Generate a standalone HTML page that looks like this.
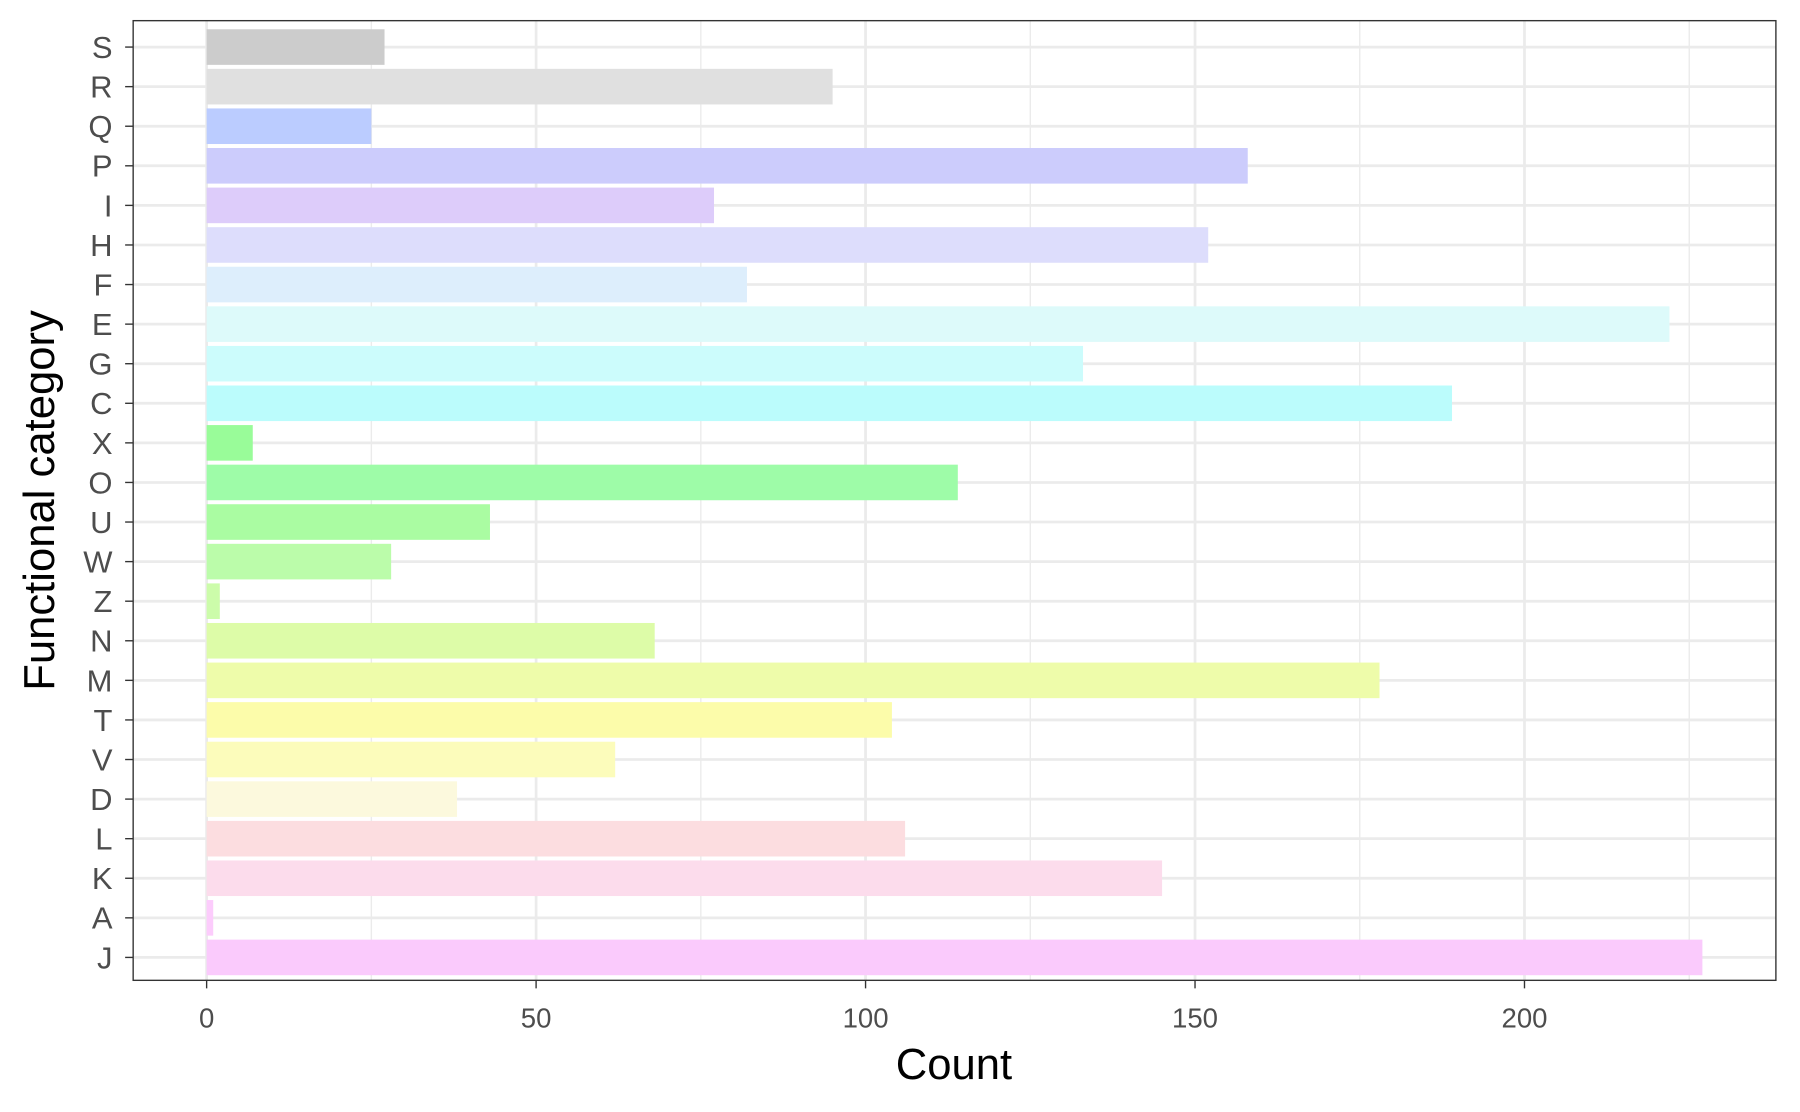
<!DOCTYPE html>
<html><head><meta charset="utf-8"><style>html,body{margin:0;padding:0;background:#fff}svg{display:block}</style></head>
<body>
<svg width="1800" height="1112" viewBox="0 0 1568 968.7" preserveAspectRatio="none" xmlns="http://www.w3.org/2000/svg" font-family="Liberation Sans, Arial, sans-serif">
<rect x="0" y="0" width="1568" height="969" fill="#fff"/>
<g stroke="#ebebeb" stroke-width="1.2">
<line x1="323.5" y1="18" x2="323.5" y2="854"/><line x1="610.5" y1="18" x2="610.5" y2="854"/><line x1="897.5" y1="18" x2="897.5" y2="854"/><line x1="1184.5" y1="18" x2="1184.5" y2="854"/><line x1="1471.5" y1="18" x2="1471.5" y2="854"/>
</g>
<g stroke="#ebebeb" stroke-width="2.4">
<line x1="180" y1="18" x2="180" y2="854"/><line x1="467" y1="18" x2="467" y2="854"/><line x1="754" y1="18" x2="754" y2="854"/><line x1="1041" y1="18" x2="1041" y2="854"/><line x1="1328" y1="18" x2="1328" y2="854"/>
</g>
<g stroke="#ebebeb" stroke-width="2.4">
<line x1="116" x2="1547" y1="41" y2="41"/><line x1="116" x2="1547" y1="75.48" y2="75.48"/><line x1="116" x2="1547" y1="109.96" y2="109.96"/><line x1="116" x2="1547" y1="144.44" y2="144.44"/><line x1="116" x2="1547" y1="178.92" y2="178.92"/><line x1="116" x2="1547" y1="213.4" y2="213.4"/><line x1="116" x2="1547" y1="247.88" y2="247.88"/><line x1="116" x2="1547" y1="282.36" y2="282.36"/><line x1="116" x2="1547" y1="316.84" y2="316.84"/><line x1="116" x2="1547" y1="351.32" y2="351.32"/><line x1="116" x2="1547" y1="385.8" y2="385.8"/><line x1="116" x2="1547" y1="420.28" y2="420.28"/><line x1="116" x2="1547" y1="454.76" y2="454.76"/><line x1="116" x2="1547" y1="489.24" y2="489.24"/><line x1="116" x2="1547" y1="523.72" y2="523.72"/><line x1="116" x2="1547" y1="558.2" y2="558.2"/><line x1="116" x2="1547" y1="592.68" y2="592.68"/><line x1="116" x2="1547" y1="627.16" y2="627.16"/><line x1="116" x2="1547" y1="661.64" y2="661.64"/><line x1="116" x2="1547" y1="696.12" y2="696.12"/><line x1="116" x2="1547" y1="730.6" y2="730.6"/><line x1="116" x2="1547" y1="765.08" y2="765.08"/><line x1="116" x2="1547" y1="799.56" y2="799.56"/><line x1="116" x2="1547" y1="834.04" y2="834.04"/>
</g>
<g>
<rect x="180" y="25.5" width="154.98" height="31" fill="#cccccc"/>
<rect x="180" y="59.98" width="545.3" height="31" fill="#e0e0e0"/>
<rect x="180" y="94.46" width="143.5" height="31" fill="#bbccff"/>
<rect x="180" y="128.94" width="906.92" height="31" fill="#ccccfc"/>
<rect x="180" y="163.42" width="441.98" height="31" fill="#ddccfa"/>
<rect x="180" y="197.9" width="872.48" height="31" fill="#ddddfc"/>
<rect x="180" y="232.38" width="470.68" height="31" fill="#ddeefc"/>
<rect x="180" y="266.86" width="1274.28" height="31" fill="#ddfafa"/>
<rect x="180" y="301.34" width="763.42" height="31" fill="#ccfcfc"/>
<rect x="180" y="335.82" width="1084.86" height="31" fill="#bbfcfc"/>
<rect x="180" y="370.3" width="40.18" height="31" fill="#99fc99"/>
<rect x="180" y="404.78" width="654.36" height="31" fill="#9efca8"/>
<rect x="180" y="439.26" width="246.82" height="31" fill="#aafca2"/>
<rect x="180" y="473.74" width="160.72" height="31" fill="#bbfcaa"/>
<rect x="180" y="508.22" width="11.48" height="31" fill="#ccfcaa"/>
<rect x="180" y="542.7" width="390.32" height="31" fill="#ddfca8"/>
<rect x="180" y="577.18" width="1021.72" height="31" fill="#eefcaa"/>
<rect x="180" y="611.66" width="596.96" height="31" fill="#fcfcaa"/>
<rect x="180" y="646.14" width="355.88" height="31" fill="#fcfcbb"/>
<rect x="180" y="680.62" width="218.12" height="31" fill="#fcf9dd"/>
<rect x="180" y="715.1" width="608.44" height="31" fill="#fcdde0"/>
<rect x="180" y="749.58" width="832.3" height="31" fill="#fcdcec"/>
<rect x="180" y="784.06" width="5.74" height="31" fill="#fcccfc"/>
<rect x="180" y="818.54" width="1302.98" height="31" fill="#facafc"/>
</g>
<g stroke="#333" stroke-width="1.2">
<line x1="109" x2="116" y1="41" y2="41"/><line x1="109" x2="116" y1="75.48" y2="75.48"/><line x1="109" x2="116" y1="109.96" y2="109.96"/><line x1="109" x2="116" y1="144.44" y2="144.44"/><line x1="109" x2="116" y1="178.92" y2="178.92"/><line x1="109" x2="116" y1="213.4" y2="213.4"/><line x1="109" x2="116" y1="247.88" y2="247.88"/><line x1="109" x2="116" y1="282.36" y2="282.36"/><line x1="109" x2="116" y1="316.84" y2="316.84"/><line x1="109" x2="116" y1="351.32" y2="351.32"/><line x1="109" x2="116" y1="385.8" y2="385.8"/><line x1="109" x2="116" y1="420.28" y2="420.28"/><line x1="109" x2="116" y1="454.76" y2="454.76"/><line x1="109" x2="116" y1="489.24" y2="489.24"/><line x1="109" x2="116" y1="523.72" y2="523.72"/><line x1="109" x2="116" y1="558.2" y2="558.2"/><line x1="109" x2="116" y1="592.68" y2="592.68"/><line x1="109" x2="116" y1="627.16" y2="627.16"/><line x1="109" x2="116" y1="661.64" y2="661.64"/><line x1="109" x2="116" y1="696.12" y2="696.12"/><line x1="109" x2="116" y1="730.6" y2="730.6"/><line x1="109" x2="116" y1="765.08" y2="765.08"/><line x1="109" x2="116" y1="799.56" y2="799.56"/><line x1="109" x2="116" y1="834.04" y2="834.04"/>
</g>
<g fill="#4d4d4d" font-size="27" text-anchor="end">
<text x="98" y="50.5">S</text><text x="98" y="84.98">R</text><text x="98" y="119.46">Q</text><text x="98" y="153.94">P</text><text x="98" y="188.42">I</text><text x="98" y="222.9">H</text><text x="98" y="257.38">F</text><text x="98" y="291.86">E</text><text x="98" y="326.34">G</text><text x="98" y="360.82">C</text><text x="98" y="395.3">X</text><text x="98" y="429.78">O</text><text x="98" y="464.26">U</text><text x="98" y="498.74">W</text><text x="98" y="533.22">Z</text><text x="98" y="567.7">N</text><text x="98" y="602.18">M</text><text x="98" y="636.66">T</text><text x="98" y="671.14">V</text><text x="98" y="705.62">D</text><text x="98" y="740.1">L</text><text x="98" y="774.58">K</text><text x="98" y="809.06">A</text><text x="98" y="843.54">J</text>
</g>
<rect x="116" y="18" width="1431" height="836" fill="none" stroke="#333" stroke-width="1.2"/>
<g fill="#4d4d4d" font-size="24" text-anchor="middle">
<text x="180" y="895">0</text><text x="467" y="895">50</text><text x="754" y="895">100</text><text x="1041" y="895">150</text><text x="1328" y="895">200</text>
</g>
<g stroke="#333" stroke-width="1.2">
<line x1="180" y1="854" x2="180" y2="861"/><line x1="467" y1="854" x2="467" y2="861"/><line x1="754" y1="854" x2="754" y2="861"/><line x1="1041" y1="854" x2="1041" y2="861"/><line x1="1328" y1="854" x2="1328" y2="861"/>
</g>
<text x="831" y="940" font-size="38" text-anchor="middle" fill="#000">Count</text>
<text transform="translate(47,436) rotate(-90)" font-size="38" text-anchor="middle" fill="#000">Functional category</text>
</svg>
</body></html>
